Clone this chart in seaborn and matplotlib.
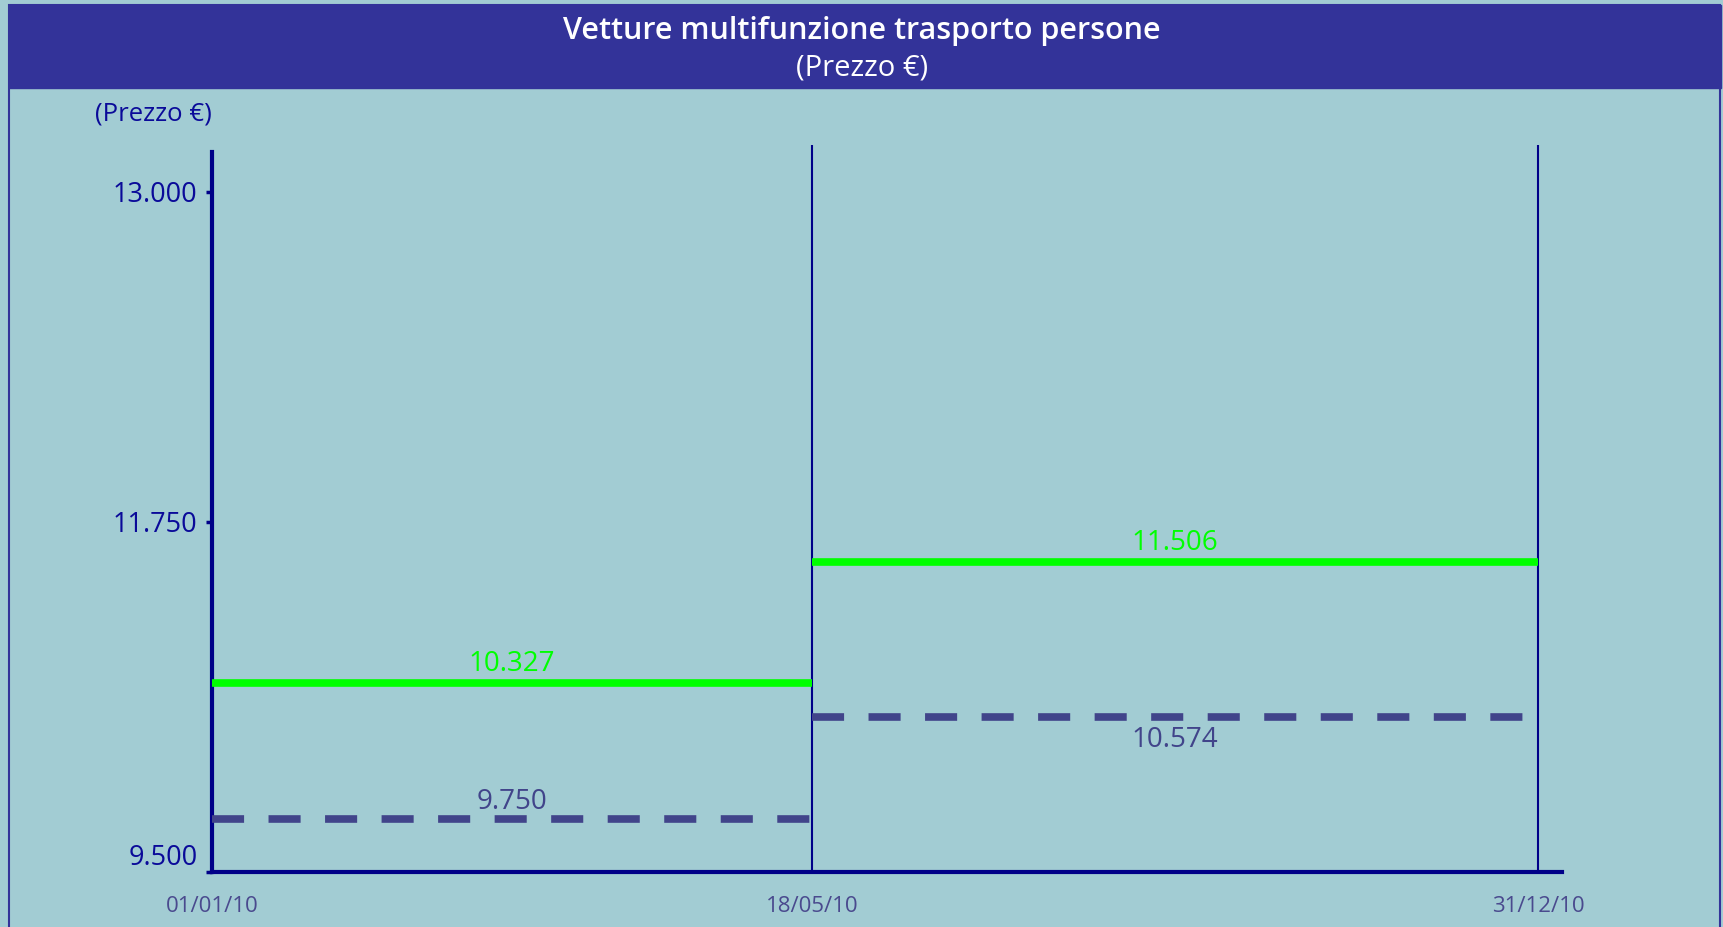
import numpy as np
import pandas as pd
import matplotlib
matplotlib.use("Agg")
import matplotlib.pyplot as plt
from matplotlib.patches import Rectangle
import seaborn as sns

# --- data ---
dates = ["01/01/10", "18/05/10", "31/12/10"]
prezzo_alto = [10327, 11506]     # green solid line
prezzo_basso = [9750, 10574]     # dashed line
y_ticks = [9500, 11750, 13000]

BG = "#a2ccd3"
HEADER = "#333399"
NAVY = "#000088"
TICK_TXT = "#0a0a99"
DATE_TXT = "#4a4a8e"
GREEN = "#00ff00"
DASHED = "#41448a"

sns.set_theme(style="white")
plt.rcParams["font.family"] = ["Open Sans", "DejaVu Sans"]


def it_fmt(v):
    return f"{v:,}".replace(",", ".")


def segments(values):
    rows = []
    for i, v in enumerate(values):
        rows.append({"seg": i, "x": i, "prezzo": v})
        rows.append({"seg": i, "x": i + 1, "prezzo": v})
    return pd.DataFrame(rows)


def piecewise(vals, pos):
    # the reference axis is schematic (not to scale), so map it piece by piece
    return (lambda v: np.interp(v, vals, pos), lambda p: np.interp(p, pos, vals))


W, H = 1724, 927
fig = plt.figure(figsize=(W / 100, H / 100), dpi=100, facecolor=BG)

# header band + thin frame
fig.add_artist(Rectangle((9 / W, 1 - 88 / H), 1712 / W, 83 / H,
                         transform=fig.transFigure, color=HEADER, zorder=0))
fig.add_artist(Rectangle((9.5 / W, -0.01), 1711 / W, 1.01 - 5 / H,
                         transform=fig.transFigure, fill=False,
                         edgecolor=HEADER, lw=1.5, zorder=0))
fig.text(0.5, 1 - 31 / H, "Vetture multifunzione trasporto persone",
         ha="center", va="center", color="white", fontsize=22, fontweight="semibold")
fig.text(0.5, 1 - 68 / H, "(Prezzo €)", ha="center", va="center",
         color="white", fontsize=21)

ax = fig.add_axes([212 / W, 55 / H, 1350 / W, 727 / H])
ax.set_facecolor("none")
ax.set_xscale("function", functions=piecewise([0, 1, 2, 2.1], [0, 600, 1326, 1398.6]))
ax.set_yscale("function", functions=piecewise([9500, 11750, 13000, 13500], [0, 350, 680, 812]))
ax.set_xlim(0, 2.033)
ax.set_ylim(9500, 13178)

ax.set_yticks(y_ticks, labels=[it_fmt(v) for v in y_ticks])
ax.set_xticks(range(len(dates)), labels=dates)
ax.tick_params(axis="y", length=4.5, width=2.5, color=NAVY, pad=6,
               labelsize=19.5, labelcolor=TICK_TXT, left=True)
ax.tick_params(axis="x", length=0, pad=17, labelsize=16, labelcolor=DATE_TXT)
ax.get_yticklabels()[0].set_va("bottom")

sns.despine(ax=ax, top=True, right=True)
for side in ("left", "bottom"):
    ax.spines[side].set_color(NAVY)
    ax.spines[side].set_linewidth(3)
ax.spines["left"].set_bounds(9500, 13150)

for i in range(1, len(dates)):
    ax.axvline(i, color=NAVY, lw=1.5, zorder=1)

ax.annotate("(Prezzo €)", xy=(0, 1), xycoords="axes fraction", xytext=(0, 22),
            textcoords="offset points", ha="right", va="center",
            fontsize=18.5, color=TICK_TXT)

# each series sits on its own hidden axis, as in the (unscaled) reference
ax_g = ax.twinx()
ax_d = ax.twinx()
ax_g.set_ylim(8485, 15569)
ax_d.set_ylim(9322, 15195)
for a in (ax_g, ax_d):
    a.axis("off")

sns.lineplot(data=segments(prezzo_alto), x="x", y="prezzo", units="seg",
             estimator=None, ax=ax_g, color=GREEN, lw=5.5,
             solid_capstyle="butt", legend=False)
sns.lineplot(data=segments(prezzo_basso), x="x", y="prezzo", units="seg",
             estimator=None, ax=ax_d, color=DASHED, lw=5.5,
             linestyle=(0, (4.2, 3.2)), dash_capstyle="butt", legend=False)

for i, v in enumerate(prezzo_alto):
    ax_g.annotate(it_fmt(v), xy=(i + 0.5, v), xytext=(0, 14), textcoords="offset points",
                  ha="center", va="center", color=GREEN, fontsize=20)
for i, v in enumerate(prezzo_basso):
    off = 12 if i == 0 else -16.5
    ax_d.annotate(it_fmt(v), xy=(i + 0.5, v), xytext=(0, off), textcoords="offset points",
                  ha="center", va="center", color=DASHED, fontsize=20)

fig.savefig("out.png", dpi=100, facecolor=BG)
